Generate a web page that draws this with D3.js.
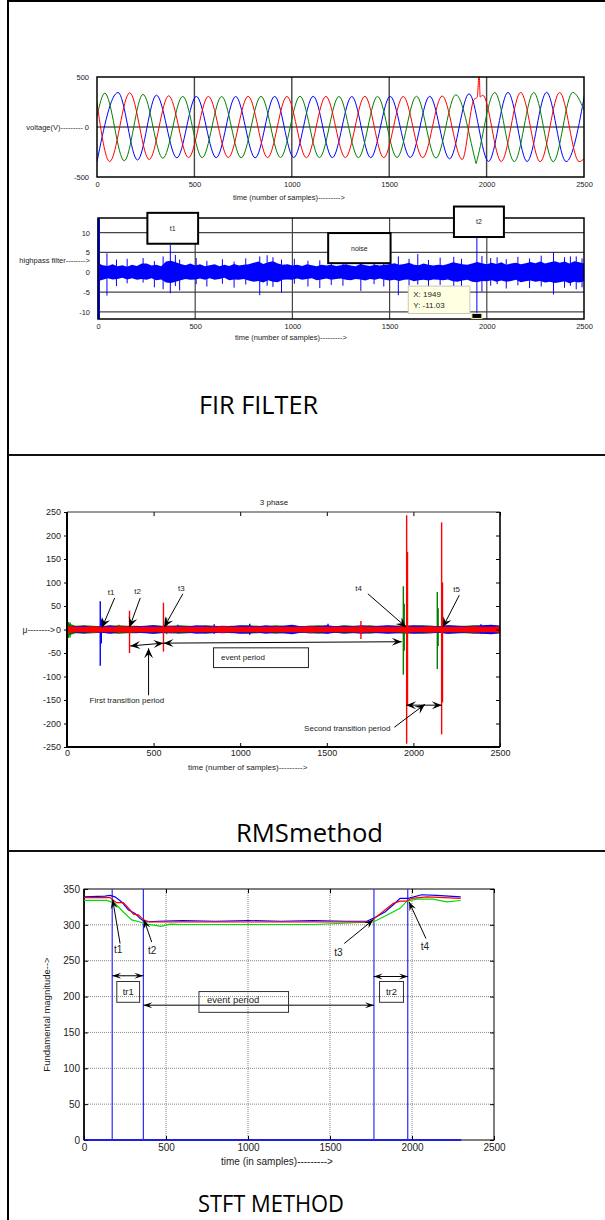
<!DOCTYPE html>
<html>
<head>
<meta charset="utf-8">
<script src="https://cdn.jsdelivr.net/npm/d3@7"></script>
<style>
  body { margin: 0; background: #fff; }
  svg { display: block; }
</style>
</head>
<body>
<svg id="fig" width="605" height="1220"></svg>
<script>
const FONT = 'Liberation Sans, Arial, sans-serif';
const TITLE_FONT = 'Open Sans, Noto Sans, sans-serif';

const xTicks = [0, 500, 1000, 1500, 2000, 2500];

// ---- FIR filter panel: voltage turning points [sample, V]
const vTicks = [-500, 0, 500];
const vBlue = [[0, -346], [108, 345], [208, -330], [305, 318], [410, -308], [510, 306], [612, -307], [712, 305],
  [812, -308], [912, 306], [1010, -305], [1110, 307], [1208, -306], [1308, 305], [1405, -307], [1505, 306],
  [1608, -305], [1708, 307], [1810, -318], [1910, 332], [2010, -344], [2110, 346], [2208, -345], [2308, 347],
  [2408, -346], [2505, 345]];
const vRed = [[0, 240], [65, -345], [168, 342], [268, -325], [368, 312], [470, -306], [572, 306], [674, -305],
  [776, 307], [876, -306], [975, 305], [1075, -307], [1175, 306], [1275, -305], [1375, 307], [1472, -306],
  [1572, 305], [1672, -307], [1772, 310], [1875, -325], [1935, 275], [1952, 298], [1962, 540], [1967, 300],
  [1980, 318], [2075, -345], [2175, 346], [2275, -347], [2375, 345], [2475, -346], [2500, -318]];
const vGreen = [[0, 107], [40, 338], [140, -338], [236, 326], [338, -312], [440, 306], [540, -306], [640, 305],
  [740, -307], [842, 306], [942, -305], [1042, 307], [1142, -306], [1242, 305], [1342, -307], [1440, 306],
  [1540, -305], [1640, 307], [1740, -310], [1842, 322], [1940, -318], [1946, -365], [1952, -322], [2042, 345],
  [2142, -346], [2242, 345], [2342, -347], [2442, 346], [2500, 170]];

// highpass filter output: band edges every 25 samples, plus spikes [sample, top, bottom]
const hpStep = 25;
const hpTicks = [-10, -5, 0, 5, 10];
const hpUpper = [
  2.3, 1.8, 1.6, 2.0, 1.5, 1.8, 1.4, 1.9, 1.6, 2.2,
  2.2, 1.7, 1.9, 1.5, 2.7, 2.9, 2.5, 2.1, 1.8, 2.2,
  1.7, 2.0, 1.5, 1.8, 2.0, 1.5, 1.9, 1.6, 2.1, 1.7,
  1.9, 2.0, 2.4, 2.7, 2.1, 2.5, 2.8, 2.2, 1.9, 2.0,
  1.7, 1.9, 1.6, 2.0, 1.8, 1.5, 1.9, 1.7, 1.9, 1.6,
  1.8, 2.0, 1.7, 1.5, 2.1, 1.8, 1.6, 1.9, 1.7, 1.9,
  2.0, 2.3, 1.9, 2.1, 2.4, 1.9, 1.8, 2.2, 1.9, 1.7,
  1.9, 1.8, 2.1, 2.5, 2.3, 2.0, 1.9, 2.2, 2.6, 2.3,
  2.0, 2.4, 2.1, 2.5, 1.9, 2.2, 2.4, 2.0, 2.3, 2.6,
  2.3, 2.7, 2.2, 2.5, 2.8, 2.4, 2.7, 2.2, 2.8, 2.5,
  2.2];
const hpLower = [
  -2.2, -1.9, -1.5, -1.8, -1.7, -1.4, -1.8, -1.5, -1.9, -1.7,
  -1.9, -1.5, -2.0, -1.8, -2.6, -2.7, -2.4, -2.0, -1.7, -1.9,
  -1.8, -1.6, -1.9, -1.5, -1.9, -1.7, -1.4, -2.0, -1.8, -1.9,
  -1.7, -2.1, -2.4, -2.2, -2.6, -2.0, -2.4, -2.5, -1.9, -1.8,
  -1.9, -1.6, -1.9, -1.7, -1.5, -2.0, -1.8, -1.6, -1.9, -1.7,
  -1.6, -1.9, -2.0, -1.7, -1.8, -2.1, -1.7, -1.9, -1.6, -1.9,
  -2.1, -1.9, -2.2, -1.9, -1.8, -2.3, -2.0, -1.9, -2.1, -1.8,
  -1.9, -2.0, -1.8, -2.3, -2.4, -2.1, -1.9, -2.4, -2.5, -2.2,
  -2.3, -2.0, -2.4, -2.1, -2.4, -2.2, -1.9, -2.5, -2.3, -2.1,
  -2.4, -2.2, -2.6, -2.4, -2.7, -2.5, -2.3, -2.8, -2.4, -2.6,
  -2.3];
const hpSpikes = [[46, 4.8, -5.9], [95, 3.2, -3.5], [150, 3.4, -2.8], [232, 3.6, -2.6], [290, 2.8, -3.8],
  [335, 4.0, -4.3], [372, 6.9, -5.3], [398, 4.4, -3.5], [420, 3.2, -4.6], [505, 3.6, -3.0], [560, 2.9, -3.6],
  [640, 3.3, -2.9], [700, 2.7, -3.9], [760, 3.5, -3.1], [832, 4.0, -5.8], [870, 4.3, -3.4], [900, 3.8, -3.7],
  [944, 3.2, -5.1], [1010, 3.4, -2.9], [1080, 2.9, -3.6], [1141, 3.0, -4.0], [1200, 3.6, -3.2], [1260, 2.8, -3.4],
  [1352, 3.1, -4.7], [1420, 3.5, -3.0], [1470, 3.0, -3.6], [1545, 4.0, -5.8], [1600, 3.4, -3.3], [1645, 4.6, -3.1],
  [1700, 3.1, -3.8], [1760, 3.7, -3.2], [1830, 3.9, -3.5], [1870, 3.4, -4.2], [1949, 8.9, -11.03], [1975, 4.1, -4.9],
  [2020, 3.6, -3.4], [2053, 3.8, -3.0], [2100, 3.3, -4.1], [2160, 3.9, -3.3], [2220, 3.5, -4.0], [2280, 4.2, -3.6],
  [2343, 5.1, -5.6], [2400, 3.8, -3.9], [2430, 4.0, -3.4], [2460, 4.0, -4.3], [2490, 3.5, -3.8]];
const hpStart = [4, 13.7, -11.8];
// [label, fromSample, toSample, top, bottom]
const hpBoxes = [['t1', 254, 515, 15.0, 7.2], ['noise', 1184, 1505, 9.9, 2.3], ['t2', 1831, 2088, 16.6, 8.9]];
const hpTip = [1949, -11.03];
const hpTipBox = [1596, 1913, -3.5, -10.4];

// ---- RMS panel: band half-widths every 50 samples, plus spikes [sample, top, bottom]
const rmsStep = 50;
const rmsTicks = [-250, -200, -150, -100, -50, 0, 50, 100, 150, 200, 250];
const rmsBlue = [6, 7, 8, 6, 7, 9, 6, 7, 7, 8, 9, 7, 8, 7, 7, 9, 8, 7, 8, 7, 9, 8, 7, 9, 7, 8,
  10, 7, 8, 7, 9, 7, 8, 7, 9, 7, 8, 9, 8, 7, 9, 8, 8, 7, 9, 8, 7, 8, 9, 10, 8];
const rmsGreen = [14, 8, 9, 8, 7, 8, 9, 8, 8, 7, 9, 8, 8, 9, 8, 7, 9, 8, 7, 8, 8, 9, 8, 7, 9, 8,
  8, 7, 8, 9, 8, 7, 9, 8, 8, 9, 7, 8, 8, 9, 8, 9, 8, 7, 9, 8, 8, 9, 8, 9, 8];
const rmsRed = [8, 6, 6, 7, 6, 6, 6, 7, 6, 6, 6, 6, 7, 6, 6, 6, 6, 6, 7, 6, 6, 6, 6, 6, 6, 6,
  6, 6, 7, 6, 6, 6, 6, 6, 7, 6, 6, 6, 6, 7, 6, 6, 7, 6, 6, 6, 6, 7, 6, 6, 7];
const rmsBlueSpikes = [[192, 60, -77], [198, 22, -30], [640, 10, -8], [850, 11, -9], [1055, 12, -11],
  [1507, 12, -9], [2390, 11, -9]];
const rmsGreenSpikes = [[8, 16, -18], [18, 15, -17], [575, 25, -10], [1942, 92, -96], [1947, 55, -45],
  [2138, 80, -84], [2143, 45, -35]];
const rmsRedSpikes = [[300, 10, -8], [361, 40, -50], [557, 57, -47], [1697, 18, -20], [1961, 243, -243],
  [1966, 165, -160], [2163, 228, -223], [2168, 100, -155]];
// callouts: [label, labelX, labelY, tailX, tailY, tipX, tipY]
const rmsCallouts = [['t1', 254, 80, 275, 67, 202, 4], ['t2', 407, 82, 423, 67, 361, 5],
  ['t3', 660, 88, 669, 76, 561, 5], ['t4', 1683, 88, 1737, 76, 1958, 5], ['t5', 2250, 86, 2265, 73, 2170, 5]];
const rmsSpans = [[365, -35, 557, -29], [557, -29, 1933, -26], [1958, -161, 2164, -161]];
const rmsPointers = [[471, -140, 471, -40], [1890, -208, 2067, -159]];
const rmsNotes = [['First transition period', 346, -157, 'middle'], ['Second transition period', 1369, -217, 'start'],
  ['event period', 889, -64, 'start']];
const rmsEventBox = [846, 1394, -39, -81];

// ---- STFT panel: fundamental magnitude [sample, value]
const stftTicks = [0, 50, 100, 150, 200, 250, 300, 350];
const stftBlue = [[0, 339], [128, 340], [159, 341], [189, 339], [230, 332], [270, 321], [311, 316], [341, 309],
  [372, 304], [450, 305], [600, 306], [800, 305], [1000, 306], [1200, 305], [1400, 306], [1600, 305], [1724, 305],
  [1764, 309], [1835, 318], [1886, 328], [1927, 337], [1977, 337], [2059, 342], [2150, 341], [2297, 339]];
const stftRed = [[0, 338], [158, 338], [199, 331], [240, 331], [281, 321], [301, 315], [332, 314], [362, 307],
  [402, 304], [600, 304], [1000, 304], [1400, 304], [1744, 304], [1886, 330], [1927, 333], [1968, 333],
  [1998, 337], [2090, 339], [2297, 337]];
const stftGreen = [[0, 334], [140, 334], [189, 330], [240, 318], [291, 307], [341, 304], [382, 301], [443, 299],
  [470, 298], [524, 301], [600, 300.5], [1000, 300.5], [1400, 300.5], [1764, 304], [1825, 311], [1927, 323],
  [1968, 333], [2029, 336], [2128, 336], [2212, 332], [2297, 334]];
const stftEvents = [172, 362, 1768, 1974];
const stftEnd = 2300;
const stftCallouts = [['t1', 209, 266, 220, 274, 175, 335], ['t2', 416, 265, 413, 276, 366, 307],
  ['t3', 1551, 262, 1587, 274, 1764, 307], ['t4', 2079, 271, 2085, 281, 1982, 332]];
const stftSpans = [[172, 229, 362, 229], [1766, 228, 1976, 228], [362, 188, 1768, 188]];
// [label, x0, x1, top, bottom, textX, textY, anchor]
const stftBoxes = [['tr1', 200, 339, 221, 192, 270, 202, 'middle'], ['tr2', 1802, 1948, 221, 192, 1875, 202, 'middle'],
  ['event period', 701, 1247, 207, 178, 750, 191, 'start']];

const svg = d3.select('#fig');
const plain = d => String(d);

// outer frame and row separators
svg.append('path').attr('d', 'M8,1220V1H605').attr('fill', 'none').attr('stroke', '#000').attr('stroke-width', 2);
svg.append('line').attr('x1', 8).attr('x2', 605).attr('y1', 455).attr('y2', 455).attr('stroke', '#111').attr('stroke-width', 2);
svg.append('line').attr('x1', 8).attr('x2', 605).attr('y1', 851).attr('y2', 851).attr('stroke', '#111').attr('stroke-width', 2);

function title(text, x, y, len, size) {
  svg.append('text').attr('x', x).attr('y', y).attr('font-family', TITLE_FONT).attr('font-size', size)
    .attr('textLength', len).attr('lengthAdjust', 'spacingAndGlyphs').attr('fill', '#000').text(text);
}
title('FIR FILTER', 199, 414, 119, 25);
title('RMSmethod', 236, 842, 147, 25);
title('STFT METHOD', 198, 1212, 146, 23);

function clip(id, x, y, w, h) {
  svg.append('clipPath').attr('id', id).append('rect').attr('x', x).attr('y', y).attr('width', w).attr('height', h);
  return `url(#${id})`;
}

function label(g, text, x, y, size, anchor) {
  return g.append('text').attr('x', x).attr('y', y).attr('font-family', FONT).attr('font-size', size)
    .attr('text-anchor', anchor || 'start').attr('fill', '#222').text(text);
}

function styleAxis(sel, size) {
  sel.attr('font-family', FONT).attr('font-size', size);
  sel.selectAll('text').attr('fill', '#222');
  sel.select('.domain').remove();
}

function head(g, x1, y1, x2, y2, len, wid) {
  const ang = Math.atan2(y2 - y1, x2 - x1) * 180 / Math.PI;
  g.append('path')
    .attr('d', `M0,0L${-len},${wid / 2}L${-len * 0.6},0L${-len},${-wid / 2}Z`)
    .attr('transform', `translate(${x2},${y2}) rotate(${ang})`)
    .attr('fill', '#000');
}

function arrow(g, x1, y1, x2, y2, len, wid, both) {
  g.append('line').attr('x1', x1).attr('y1', y1).attr('x2', x2).attr('y2', y2)
    .attr('stroke', '#000').attr('stroke-width', 1);
  head(g, x1, y1, x2, y2, len, wid);
  if (both) head(g, x2, y2, x1, y1, len, wid);
}

function spikes(g, data, x, y, color, width) {
  g.append('g').selectAll('line').data(data).join('line')
    .attr('x1', d => x(d[0])).attr('x2', d => x(d[0]))
    .attr('y1', d => y(d[1])).attr('y2', d => y(d[2]))
    .attr('stroke', color).attr('stroke-width', width);
}

// ================= panel 1: voltage =================
{
  const p = { left: 97, right: 584, top: 77, bottom: 177 };
  const x = d3.scaleLinear().domain([0, 2500]).range([p.left, p.right]);
  const y = d3.scaleLinear().domain([-500, 500]).range([p.bottom, p.top]);
  const g = svg.append('g');

  g.selectAll('line.vgrid').data(xTicks.slice(1, -1)).join('line')
    .attr('x1', d => x(d)).attr('x2', d => x(d)).attr('y1', p.top).attr('y2', p.bottom)
    .attr('stroke', '#444').attr('stroke-width', 1.4);
  g.append('line').attr('x1', p.left).attr('x2', p.right).attr('y1', y(0)).attr('y2', y(0))
    .attr('stroke', '#000').attr('stroke-width', 1);

  const line = d3.line().x(d => x(d[0])).y(d => y(d[1])).curve(d3.curveMonotoneX);
  const cp = clip('c1', p.left, p.top, p.right - p.left, p.bottom - p.top);
  [[vBlue, '#0000ff'], [vGreen, '#008000'], [vRed, '#ff0000']].forEach(([data, color]) => {
    g.append('path').datum(data).attr('d', line).attr('clip-path', cp)
      .attr('fill', 'none').attr('stroke', color).attr('stroke-width', 1);
  });

  g.append('rect').attr('x', p.left).attr('y', p.top).attr('width', p.right - p.left).attr('height', p.bottom - p.top)
    .attr('fill', 'none').attr('stroke', '#000').attr('stroke-width', 1.5);

  g.append('g').attr('transform', `translate(${p.left},0)`)
    .call(d3.axisLeft(y).tickValues(vTicks).tickSize(0).tickPadding(8).tickFormat(plain)).call(styleAxis, 7.5);
  g.append('g').attr('transform', `translate(0,${p.bottom})`)
    .call(d3.axisBottom(x).tickValues(xTicks).tickSize(0).tickPadding(5).tickFormat(plain)).call(styleAxis, 7.5);

  label(g, 'voltage(V)---------', 83, y(0) + 2.5, 7.5, 'end');
  label(g, 'time (number of samples)--------->', 233, 199.5, 7.5);
}

// ================= panel 2: highpass =================
{
  const p = { left: 98, right: 584, top: 218, bottom: 319 };
  const x = d3.scaleLinear().domain([0, 2500]).range([p.left, p.right]);
  const y = d3.scaleLinear().domain([-11.8, 13.7]).range([p.bottom, p.top]);
  const g = svg.append('g');

  g.selectAll('line.vgrid').data(xTicks.slice(1, -1)).join('line')
    .attr('x1', d => x(d)).attr('x2', d => x(d)).attr('y1', p.top).attr('y2', p.bottom)
    .attr('stroke', '#444').attr('stroke-width', 1.2);
  g.selectAll('line.hgrid').data(hpTicks.filter(d => d !== 0)).join('line')
    .attr('x1', p.left).attr('x2', p.right).attr('y1', d => y(d)).attr('y2', d => y(d))
    .attr('stroke', '#444').attr('stroke-width', 1.2);

  const band = d3.area().x((d, i) => x(i * hpStep)).y0((d, i) => y(hpLower[i])).y1(d => y(d));
  g.append('path').datum(hpUpper).attr('d', band).attr('fill', '#0000ff');
  spikes(g, hpSpikes, x, y, '#0000ff', 1);
  spikes(g, [hpStart], x, y, '#0000ff', 2.5);

  g.append('rect').attr('x', p.left).attr('y', p.top).attr('width', p.right - p.left).attr('height', p.bottom - p.top)
    .attr('fill', 'none').attr('stroke', '#000').attr('stroke-width', 1.5);

  g.append('g').attr('transform', `translate(${p.left},0)`)
    .call(d3.axisLeft(y).tickValues(hpTicks).tickSize(0).tickPadding(8).tickFormat(plain)).call(styleAxis, 7.5);
  g.append('g').attr('transform', `translate(0,${p.bottom})`)
    .call(d3.axisBottom(x).tickValues(xTicks).tickSize(0).tickPadding(5).tickFormat(plain)).call(styleAxis, 7.5);

  hpBoxes.forEach(([txt, s0, s1, top, bot]) => {
    g.append('rect').attr('x', x(s0)).attr('y', y(top)).attr('width', x(s1) - x(s0)).attr('height', y(bot) - y(top))
      .attr('fill', '#fff').attr('stroke', '#000').attr('stroke-width', 2);
    label(g, txt, (x(s0) + x(s1)) / 2, (y(top) + y(bot)) / 2 + 2.5, 7, 'middle');
  });

  const [t0, t1, tt, tb] = hpTipBox;
  g.append('rect').attr('x', x(t0)).attr('y', y(tt)).attr('width', x(t1) - x(t0)).attr('height', y(tb) - y(tt))
    .attr('fill', '#ffffe1').attr('stroke', '#c8c8b8').attr('stroke-width', 1);
  label(g, `X: ${hpTip[0]}`, x(t0) + 5, y(tt) + 11, 8);
  label(g, `Y: ${hpTip[1]}`, x(t0) + 5, y(tt) + 22, 8);
  g.append('rect').attr('x', x(hpTip[0]) - 5).attr('y', y(hpTip[1]) - 2.5).attr('width', 10).attr('height', 5)
    .attr('fill', '#000').attr('stroke', '#f4f0b0').attr('stroke-width', 1);

  label(g, 'highpass filter-------->', 90, 262.5, 7.5, 'end');
  label(g, 'time (number of samples)--------->', 235, 340, 7.5);
}

// ================= panel 3: RMS =================
{
  const p = { left: 67, right: 500, top: 512, bottom: 747 };
  const x = d3.scaleLinear().domain([0, 2500]).range([p.left, p.right]);
  const y = d3.scaleLinear().domain([-250, 250]).range([p.bottom, p.top]);
  const g = svg.append('g');
  const cp = clip('c3', p.left, p.top, p.right - p.left, p.bottom - p.top);
  const data = g.append('g').attr('clip-path', cp);

  const band = d3.area().x((d, i) => x(i * rmsStep)).y0(d => y(-d)).y1(d => y(d));
  [[rmsGreen, rmsGreenSpikes, '#008000'], [rmsBlue, rmsBlueSpikes, '#0000ff'], [rmsRed, rmsRedSpikes, '#ff0000']]
    .forEach(([amp, sp, color]) => {
      data.append('path').datum(amp).attr('d', band).attr('fill', color);
      spikes(data, sp, x, y, color, 1.4);
    });

  g.append('g').attr('transform', `translate(${p.left},0)`)
    .call(d3.axisLeft(y).tickValues(rmsTicks).tickSize(3).tickPadding(3).tickFormat(plain)).call(styleAxis, 9);
  g.append('g').attr('transform', `translate(0,${p.bottom})`)
    .call(d3.axisBottom(x).tickValues(xTicks).tickSizeInner(-4).tickSizeOuter(0).tickPadding(3).tickFormat(plain)).call(styleAxis, 9);
  g.append('g').attr('transform', `translate(0,${p.top})`)
    .call(d3.axisBottom(x).tickValues(xTicks).tickSize(4).tickFormat('')).call(styleAxis, 9);
  g.append('g').attr('transform', `translate(${p.right},0)`)
    .call(d3.axisLeft(y).tickValues(rmsTicks).tickSize(4).tickFormat('')).call(styleAxis, 9);

  g.append('line').attr('x1', p.left).attr('x2', p.right).attr('y1', p.top).attr('y2', p.top).attr('stroke', '#333').attr('stroke-width', 1);
  g.append('line').attr('x1', p.right).attr('x2', p.right).attr('y1', p.top).attr('y2', p.bottom).attr('stroke', '#000').attr('stroke-width', 1.6);
  g.append('line').attr('x1', p.left).attr('x2', p.left).attr('y1', p.top).attr('y2', p.bottom).attr('stroke', '#000').attr('stroke-width', 2);
  g.append('line').attr('x1', p.left).attr('x2', p.right).attr('y1', p.bottom).attr('y2', p.bottom).attr('stroke', '#000').attr('stroke-width', 2);

  rmsCallouts.forEach(([txt, lx, ly, sx, sy, ex, ey]) => {
    label(g, txt, x(lx), y(ly) + 3, 8, 'middle');
    arrow(g, x(sx), y(sy), x(ex), y(ey), 10, 9, false);
  });
  rmsSpans.forEach(([sx, sy, ex, ey]) => arrow(g, x(sx), y(sy), x(ex), y(ey), 10, 8, true));
  rmsPointers.forEach(([sx, sy, ex, ey]) => arrow(g, x(sx), y(sy), x(ex), y(ey), 10, 9, false));
  const [b0, b1, bt, bb] = rmsEventBox;
  g.append('rect').attr('x', x(b0)).attr('y', y(bt)).attr('width', x(b1) - x(b0)).attr('height', y(bb) - y(bt))
    .attr('fill', '#fff').attr('stroke', '#222').attr('stroke-width', 1);
  rmsNotes.forEach(([txt, lx, ly, anchor]) => label(g, txt, x(lx), y(ly), 8, anchor));

  label(g, '3 phase', 274, 504.5, 8, 'middle');
  label(g, 'μ-------->', 55, y(0) + 3, 8.5, 'end');
  label(g, 'time (number of samples)--------->', 188, 769.5, 8);
}

// ================= panel 4: STFT =================
{
  const p = { left: 84, right: 494, top: 889, bottom: 1140 };
  const x = d3.scaleLinear().domain([0, 2500]).range([p.left, p.right]);
  const y = d3.scaleLinear().domain([0, 350]).range([p.bottom, p.top]);
  const g = svg.append('g');

  g.selectAll('line.vgrid').data(xTicks.slice(1, -1)).join('line')
    .attr('x1', d => x(d)).attr('x2', d => x(d)).attr('y1', p.top).attr('y2', p.bottom)
    .attr('stroke', '#666').attr('stroke-width', 0.8).attr('stroke-dasharray', '1,1');
  g.selectAll('line.hgrid').data(stftTicks.slice(1, -1)).join('line')
    .attr('x1', p.left).attr('x2', p.right).attr('y1', d => y(d)).attr('y2', d => y(d))
    .attr('stroke', '#666').attr('stroke-width', 0.8).attr('stroke-dasharray', '1,1');

  g.append('rect').attr('x', p.left).attr('y', p.top).attr('width', p.right - p.left).attr('height', p.bottom - p.top)
    .attr('fill', 'none').attr('stroke', '#000').attr('stroke-width', 1);
  g.append('line').attr('x1', p.left).attr('x2', p.left).attr('y1', p.top).attr('y2', p.bottom).attr('stroke', '#000').attr('stroke-width', 1.6);

  g.append('g').attr('transform', `translate(${p.left},0)`)
    .call(d3.axisLeft(y).tickValues(stftTicks).tickSizeInner(-4).tickSizeOuter(0).tickPadding(4).tickFormat(plain)).call(styleAxis, 10);
  g.append('g').attr('transform', `translate(0,${p.bottom})`)
    .call(d3.axisBottom(x).tickValues(xTicks).tickSizeInner(-4).tickSizeOuter(0).tickPadding(4).tickFormat(plain)).call(styleAxis, 10);
  g.append('g').attr('transform', `translate(0,${p.top})`)
    .call(d3.axisTop(x).tickValues(xTicks).tickSizeInner(-4).tickSizeOuter(0).tickFormat('')).call(styleAxis, 10);
  g.append('g').attr('transform', `translate(${p.right},0)`)
    .call(d3.axisRight(y).tickValues(stftTicks).tickSizeInner(-4).tickSizeOuter(0).tickFormat('')).call(styleAxis, 10);
  g.selectAll('.tick line').attr('stroke', '#000');

  // event markers: blue trace sitting at zero with vertical jumps
  g.append('line').attr('x1', x(0)).attr('x2', x(stftEnd)).attr('y1', y(0)).attr('y2', y(0))
    .attr('stroke', '#0000ff').attr('stroke-width', 1.6);
  g.selectAll('line.event').data(stftEvents).join('line')
    .attr('x1', d => x(d)).attr('x2', d => x(d)).attr('y1', y(0)).attr('y2', y(350))
    .attr('stroke', '#2a2aff').attr('stroke-width', 1.2);

  const line = d3.line().x(d => x(d[0])).y(d => y(d[1]));
  [[stftGreen, '#00dd00'], [stftBlue, '#0000ff'], [stftRed, '#ff0000']].forEach(([data, color]) => {
    g.append('path').datum(data).attr('d', line).attr('fill', 'none').attr('stroke', color).attr('stroke-width', 1.2);
  });

  stftCallouts.forEach(([txt, lx, ly, sx, sy, ex, ey]) => {
    label(g, txt, x(lx), y(ly) + 4, 10, 'middle');
    arrow(g, x(sx), y(sy), x(ex), y(ey), 9, 7, false);
  });
  stftSpans.forEach(([sx, sy, ex, ey]) => arrow(g, x(sx), y(sy), x(ex), y(ey), 9, 6, true));
  stftBoxes.forEach(([txt, s0, s1, top, bot, tx, ty, anchor]) => {
    g.append('rect').attr('x', x(s0)).attr('y', y(top)).attr('width', x(s1) - x(s0)).attr('height', y(bot) - y(top))
      .attr('fill', 'none').attr('stroke', '#333').attr('stroke-width', 1);
    label(g, txt, x(tx), y(ty), 9.5, anchor);
  });

  label(g, 'Fundamental magnitude-->', 0, 0, 9.5, 'middle')
    .attr('transform', `translate(50,${(p.top + p.bottom) / 2}) rotate(-90)`);
  label(g, 'time (in samples)--------->', 221, 1164.5, 10);
}
</script>
</body>
</html>
